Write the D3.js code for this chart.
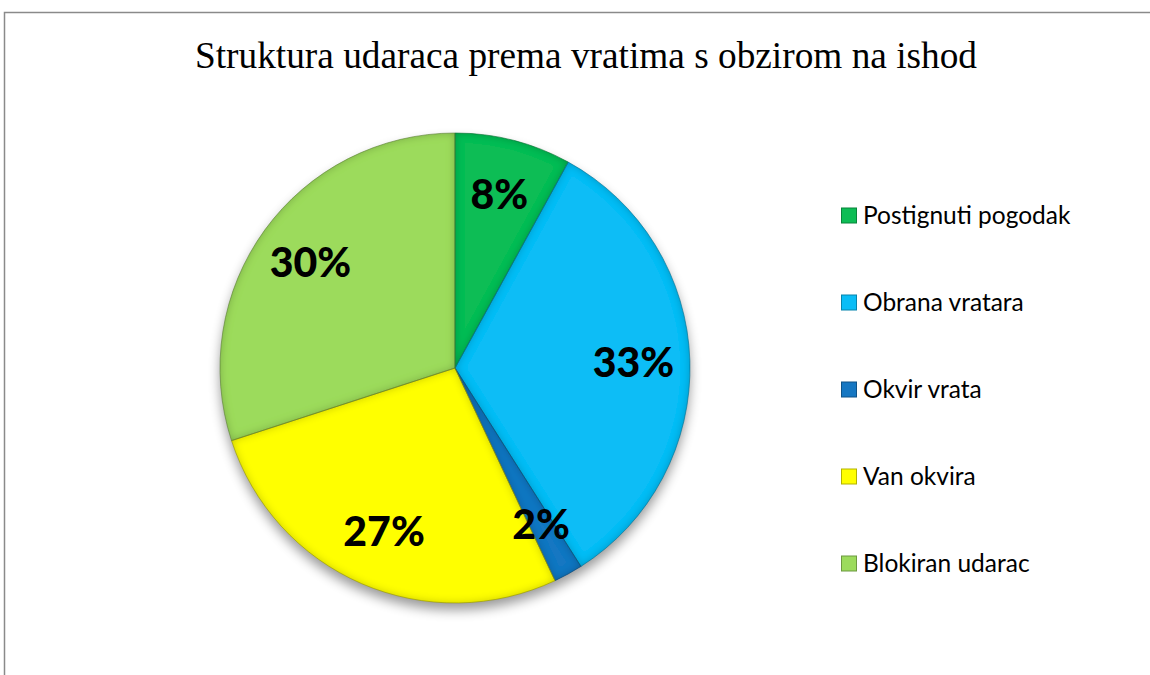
<!DOCTYPE html>
<html>
<head>
<meta charset="utf-8">
<script src="https://cdn.jsdelivr.net/npm/d3@7"></script>
<style>
  body { margin: 0; background: #fff; }
  svg { display: block; }
</style>
</head>
<body>
<div id="chart-area"></div>
<script>
// chart data
let categories = ["Postignuti pogodak", "Obrana vratara", "Okvir vrata", "Van okvira", "Blokiran udarac"];
let values = [8, 33, 2, 27, 30];
let colors = ["#0dbd55", "#0abdf6", "#1677c2", "#ffff00", "#9cdb5c"];
let titleText = "Struktura udaraca prema vratima s obzirom na ishod";

let width = 1150, height = 675;
let cx = 455, cy = 368, radius = 235;

let svg = d3.select("#chart-area").append("svg")
    .attr("width", width)
    .attr("height", height);

let defs = svg.append("defs");

// soft shadow under the pie
let shadow = defs.append("filter").attr("id", "shadow")
    .attr("x", "-20%").attr("y", "-20%").attr("width", "140%").attr("height", "140%");
shadow.append("feGaussianBlur").attr("in", "SourceAlpha").attr("stdDeviation", 6);
shadow.append("feOffset").attr("dy", 7).attr("result", "blur");
shadow.append("feComponentTransfer").append("feFuncA").attr("type", "linear").attr("slope", 0.4);

// inner bevel on each slice
let bevel = defs.append("filter").attr("id", "bevel");
bevel.append("feGaussianBlur").attr("in", "SourceAlpha").attr("stdDeviation", 4).attr("result", "b");
bevel.append("feComposite").attr("in", "SourceAlpha").attr("in2", "b")
    .attr("operator", "out").attr("result", "edge");
bevel.append("feFlood").attr("flood-color", "#000").attr("flood-opacity", 0.45);
bevel.append("feComposite").attr("in2", "edge").attr("operator", "in").attr("result", "shade");
let merge = bevel.append("feMerge");
merge.append("feMergeNode").attr("in", "SourceGraphic");
merge.append("feMergeNode").attr("in", "shade");

// frame (only left and top edges are visible in the picture)
svg.append("path")
    .attr("d", "M4.5," + height + "V12.5H" + width)
    .attr("fill", "none")
    .attr("stroke", "#8a8a8a")
    .attr("stroke-width", 1.5);

// title
svg.append("text")
    .attr("x", 586)
    .attr("y", 68)
    .attr("text-anchor", "middle")
    .attr("font-family", "'Liberation Serif', 'Times New Roman', serif")
    .attr("font-size", 37)
    .attr("textLength", 782)
    .attr("lengthAdjust", "spacingAndGlyphs")
    .attr("fill", "#000")
    .text(titleText);

let data = categories.map((c, i) => ({name: c, value: values[i], color: colors[i]}));

let pie = d3.pie().sort(null).value(d => d.value);
let arc = d3.arc().innerRadius(0).outerRadius(radius);
let labelArc = d3.arc().innerRadius(radius * 0.76).outerRadius(radius * 0.76);

let g = svg.append("g").attr("transform", "translate(" + cx + "," + cy + ")");

g.append("circle")
    .attr("r", radius)
    .attr("fill", "#888")
    .attr("filter", "url(#shadow)");

let arcs = pie(data);

g.selectAll("path.slice")
    .data(arcs)
    .enter().append("path")
    .attr("class", "slice")
    .attr("d", arc)
    .attr("fill", d => d.data.color)
    .attr("filter", "url(#bevel)");

g.selectAll("path.edge")
    .data(arcs)
    .enter().append("path")
    .attr("class", "edge")
    .attr("d", arc)
    .attr("fill", "none")
    .attr("stroke", d => d3.color(d.data.color).darker(1.5))
    .attr("stroke-opacity", 0.6)
    .attr("stroke-width", 1);

g.selectAll("text.pct")
    .data(arcs)
    .enter().append("text")
    .attr("class", "pct")
    .attr("transform", d => "translate(" + labelArc.centroid(d) + ")")
    .attr("text-anchor", "middle")
    .attr("dy", "0.35em")
    .attr("font-family", "Lato, 'Open Sans', sans-serif")
    .attr("font-weight", 900)
    .attr("font-size", 41)
    .attr("fill", "#000")
    .text(d => d.data.value + "%");

// legend
let legendY = d3.scalePoint().domain(categories).range([215, 563]);

let legend = svg.append("g").selectAll("g")
    .data(data)
    .enter().append("g")
    .attr("transform", d => "translate(841," + legendY(d.name) + ")");

legend.append("rect")
    .attr("x", 0.5)
    .attr("y", -7)
    .attr("width", 15)
    .attr("height", 15)
    .attr("fill", d => d.color)
    .attr("stroke", d => d3.color(d.color).darker(1))
    .attr("stroke-width", 1);

legend.append("text")
    .attr("x", 22)
    .attr("y", 0)
    .attr("dy", "0.35em")
    .attr("font-family", "Lato, 'Open Sans', sans-serif")
    .attr("font-size", 24.5)
    .attr("fill", "#000")
    .text(d => d.name);
</script>
</body>
</html>
